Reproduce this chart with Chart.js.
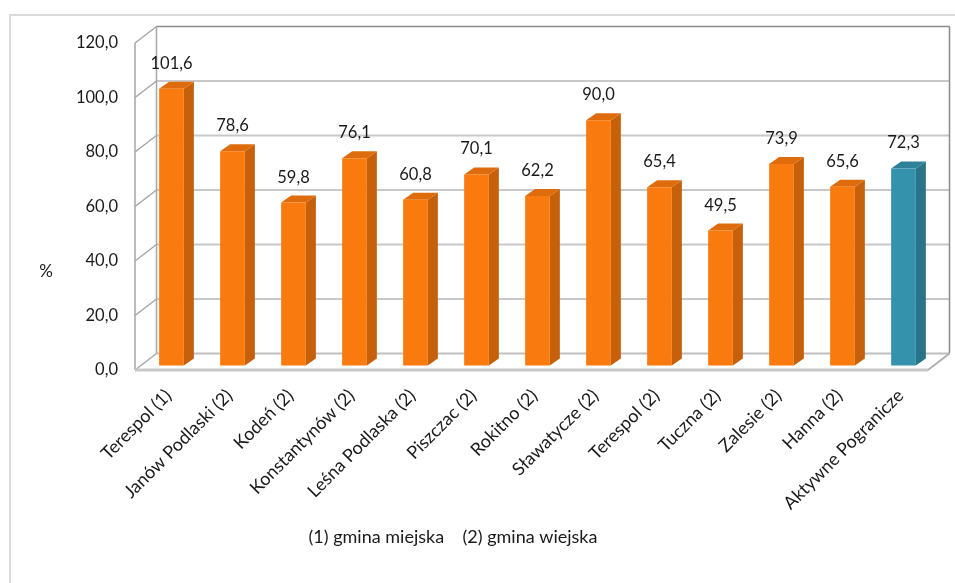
<!DOCTYPE html>
<html><head><meta charset="utf-8">
<script src="https://cdn.jsdelivr.net/npm/chart.js@4.4.0/dist/chart.umd.min.js"></script>
<style>html,body{margin:0;padding:0;background:#fff;}canvas{display:block;}</style>
</head><body>
<canvas id="c" width="955" height="583"></canvas>
<script>
const categories = ['Terespol (1)', 'Janów Podlaski (2)', 'Kodeń (2)', 'Konstantynów (2)', 'Leśna Podlaska (2)', 'Piszczac (2)', 'Rokitno (2)', 'Sławatycze (2)', 'Terespol (2)', 'Tuczna (2)', 'Zalesie (2)', 'Hanna (2)', 'Aktywne Pogranicze'];
const values = [101.6, 78.6, 59.8, 76.1, 60.8, 70.1, 62.2, 90.0, 65.4, 49.5, 73.9, 65.6, 72.3];
const yTickLabels = ['0,0', '20,0', '40,0', '60,0', '80,0', '100,0', '120,0'];
const axisNote = '(1) gmina miejska    (2) gmina wiejska';
const yUnit = '%';

const FONT = 'Lato, "Open Sans", sans-serif';
const ORANGE = {front: '#F97A0E', side: '#C6600A', top: '#DE6C0C'};
const TEAL = {front: '#3592AC', side: '#2A7489', top: '#2F8199'};
const DX = 21.5, DY = -16.5;   // wall depth
const BX = 6, BY = -4.5;       // bar front plane offset
const BDX = 10, BDY = -7;      // bar depth

function fmt(v) { return v.toFixed(1).replace('.', ','); }

function line(ctx, x1, y1, x2, y2, color, w) {
  ctx.strokeStyle = color; ctx.lineWidth = w;
  ctx.beginPath(); ctx.moveTo(x1, y1); ctx.lineTo(x2, y2); ctx.stroke();
}
function poly(ctx, pts, color) {
  ctx.fillStyle = color; ctx.beginPath();
  ctx.moveTo(pts[0][0], pts[0][1]);
  for (let i = 1; i < pts.length; i++) ctx.lineTo(pts[i][0], pts[i][1]);
  ctx.closePath(); ctx.fill();
}

const plot3d = {
  id: 'plot3d',
  beforeDraw(chart) {
    const ctx = chart.ctx;
    ctx.save();
    ctx.fillStyle = '#fff'; ctx.fillRect(0, 0, chart.width, chart.height);
    ctx.strokeStyle = '#D9D9D9'; ctx.lineWidth = 2;
    ctx.beginPath(); ctx.moveTo(10, chart.height + 5); ctx.lineTo(10, 15); ctx.lineTo(chart.width + 5, 15); ctx.stroke();
    ctx.restore();
  },
  beforeDatasetsDraw(chart) {
    const {ctx, chartArea: a, scales: {y}} = chart;
    ctx.save();
    const ticks = y.ticks;
    ticks.forEach((t, i) => {
      const py = y.getPixelForValue(t.value);
      const top = i === ticks.length - 1;
      if (i > 0) line(ctx, a.left + DX, py + DY, a.right + DX, py + DY, top ? '#8C8C8C' : '#C8C8C8', top ? 1.5 : 2);
      line(ctx, a.left, py, a.left + DX, py + DY, '#A6A6A6', 1.5);
    });
    line(ctx, a.left + DX, a.bottom + DY, a.right + DX, a.bottom + DY, '#BFBFBF', 2);
    line(ctx, a.left, a.top, a.left, a.bottom, '#A6A6A6', 1.5);
    line(ctx, a.left + DX, a.top + DY, a.left + DX, a.bottom + DY, '#A6A6A6', 1.5);
    line(ctx, a.right + DX, a.top + DY, a.right + DX, a.bottom + DY, '#8C8C8C', 1.5);
    line(ctx, a.left, a.bottom, a.right, a.bottom, '#C8C8C8', 3);
    line(ctx, a.right, a.bottom, a.right + DX, a.bottom + DY, '#B0B0B0', 2);
    ctx.restore();
  },
  afterDatasetsDraw(chart) {
    const ctx = chart.ctx;
    const meta = chart.getDatasetMeta(0);
    ctx.save();
    meta.data.forEach((el, i) => {
      const p = el.getProps(['x', 'y', 'base', 'width'], true);
      const c = i === categories.length - 1 ? TEAL : ORANGE;
      const x1 = p.x - p.width / 2 + BX, x2 = p.x + p.width / 2 + BX;
      const t = p.y + BY, b = p.base + BY;
      poly(ctx, [[x2, t], [x2 + BDX, t + BDY], [x2 + BDX, b + BDY], [x2, b]], c.side);
      poly(ctx, [[x1, t], [x1 + BDX, t + BDY], [x2 + BDX, t + BDY], [x2, t]], c.top);
      poly(ctx, [[x1, t], [x2, t], [x2, b], [x1, b]], c.front);
      ctx.fillStyle = '#1a1a1a';
      ctx.font = '16.5px ' + FONT;
      ctx.textAlign = 'center'; ctx.textBaseline = 'alphabetic';
      ctx.fillText(fmt(values[i]), (x1 + x2) / 2, t - 20);
    });
    ctx.restore();
  },
  afterDraw(chart) {
    const ctx = chart.ctx;
    ctx.save();
    ctx.fillStyle = '#1a1a1a';
    ctx.font = '18px ' + FONT;
    ctx.textAlign = 'center'; ctx.textBaseline = 'middle';
    ctx.fillText(axisNote, 453, 537);
    ctx.font = '17px ' + FONT;
    ctx.fillText(yUnit, 46, 272);
    ctx.restore();
  }
};

new Chart(document.getElementById('c'), {
  type: 'bar',
  data: {
    labels: categories,
    datasets: [{
      data: values,
      backgroundColor: 'rgba(0,0,0,0)',
      borderWidth: 0,
      categoryPercentage: 1,
      barPercentage: 0.405
    }]
  },
  options: {
    responsive: false,
    devicePixelRatio: 1,
    animation: false,
    layout: {padding: {top: 43, right: 27, left: 0, bottom: 0}},
    plugins: {legend: {display: false}, tooltip: {enabled: false}},
    scales: {
      y: {
        min: 0, max: 120,
        grid: {display: false, drawTicks: false},
        border: {display: false},
        ticks: {
          stepSize: 20, padding: 17, color: '#1a1a1a',
          font: {family: FONT, size: 16.5},
          callback: (v, i) => yTickLabels[i]
        },
        afterFit: s => { s.width = 135; }
      },
      x: {
        grid: {display: false, drawTicks: false},
        border: {display: false},
        ticks: {
          autoSkip: false, maxRotation: 45, minRotation: 45,
          padding: 15, labelOffset: 3, color: '#1a1a1a',
          font: {family: FONT, size: 18}
        },
        afterFit: s => { s.height = 213; }
      }
    }
  },
  plugins: [plot3d]
});
</script>
</body></html>
